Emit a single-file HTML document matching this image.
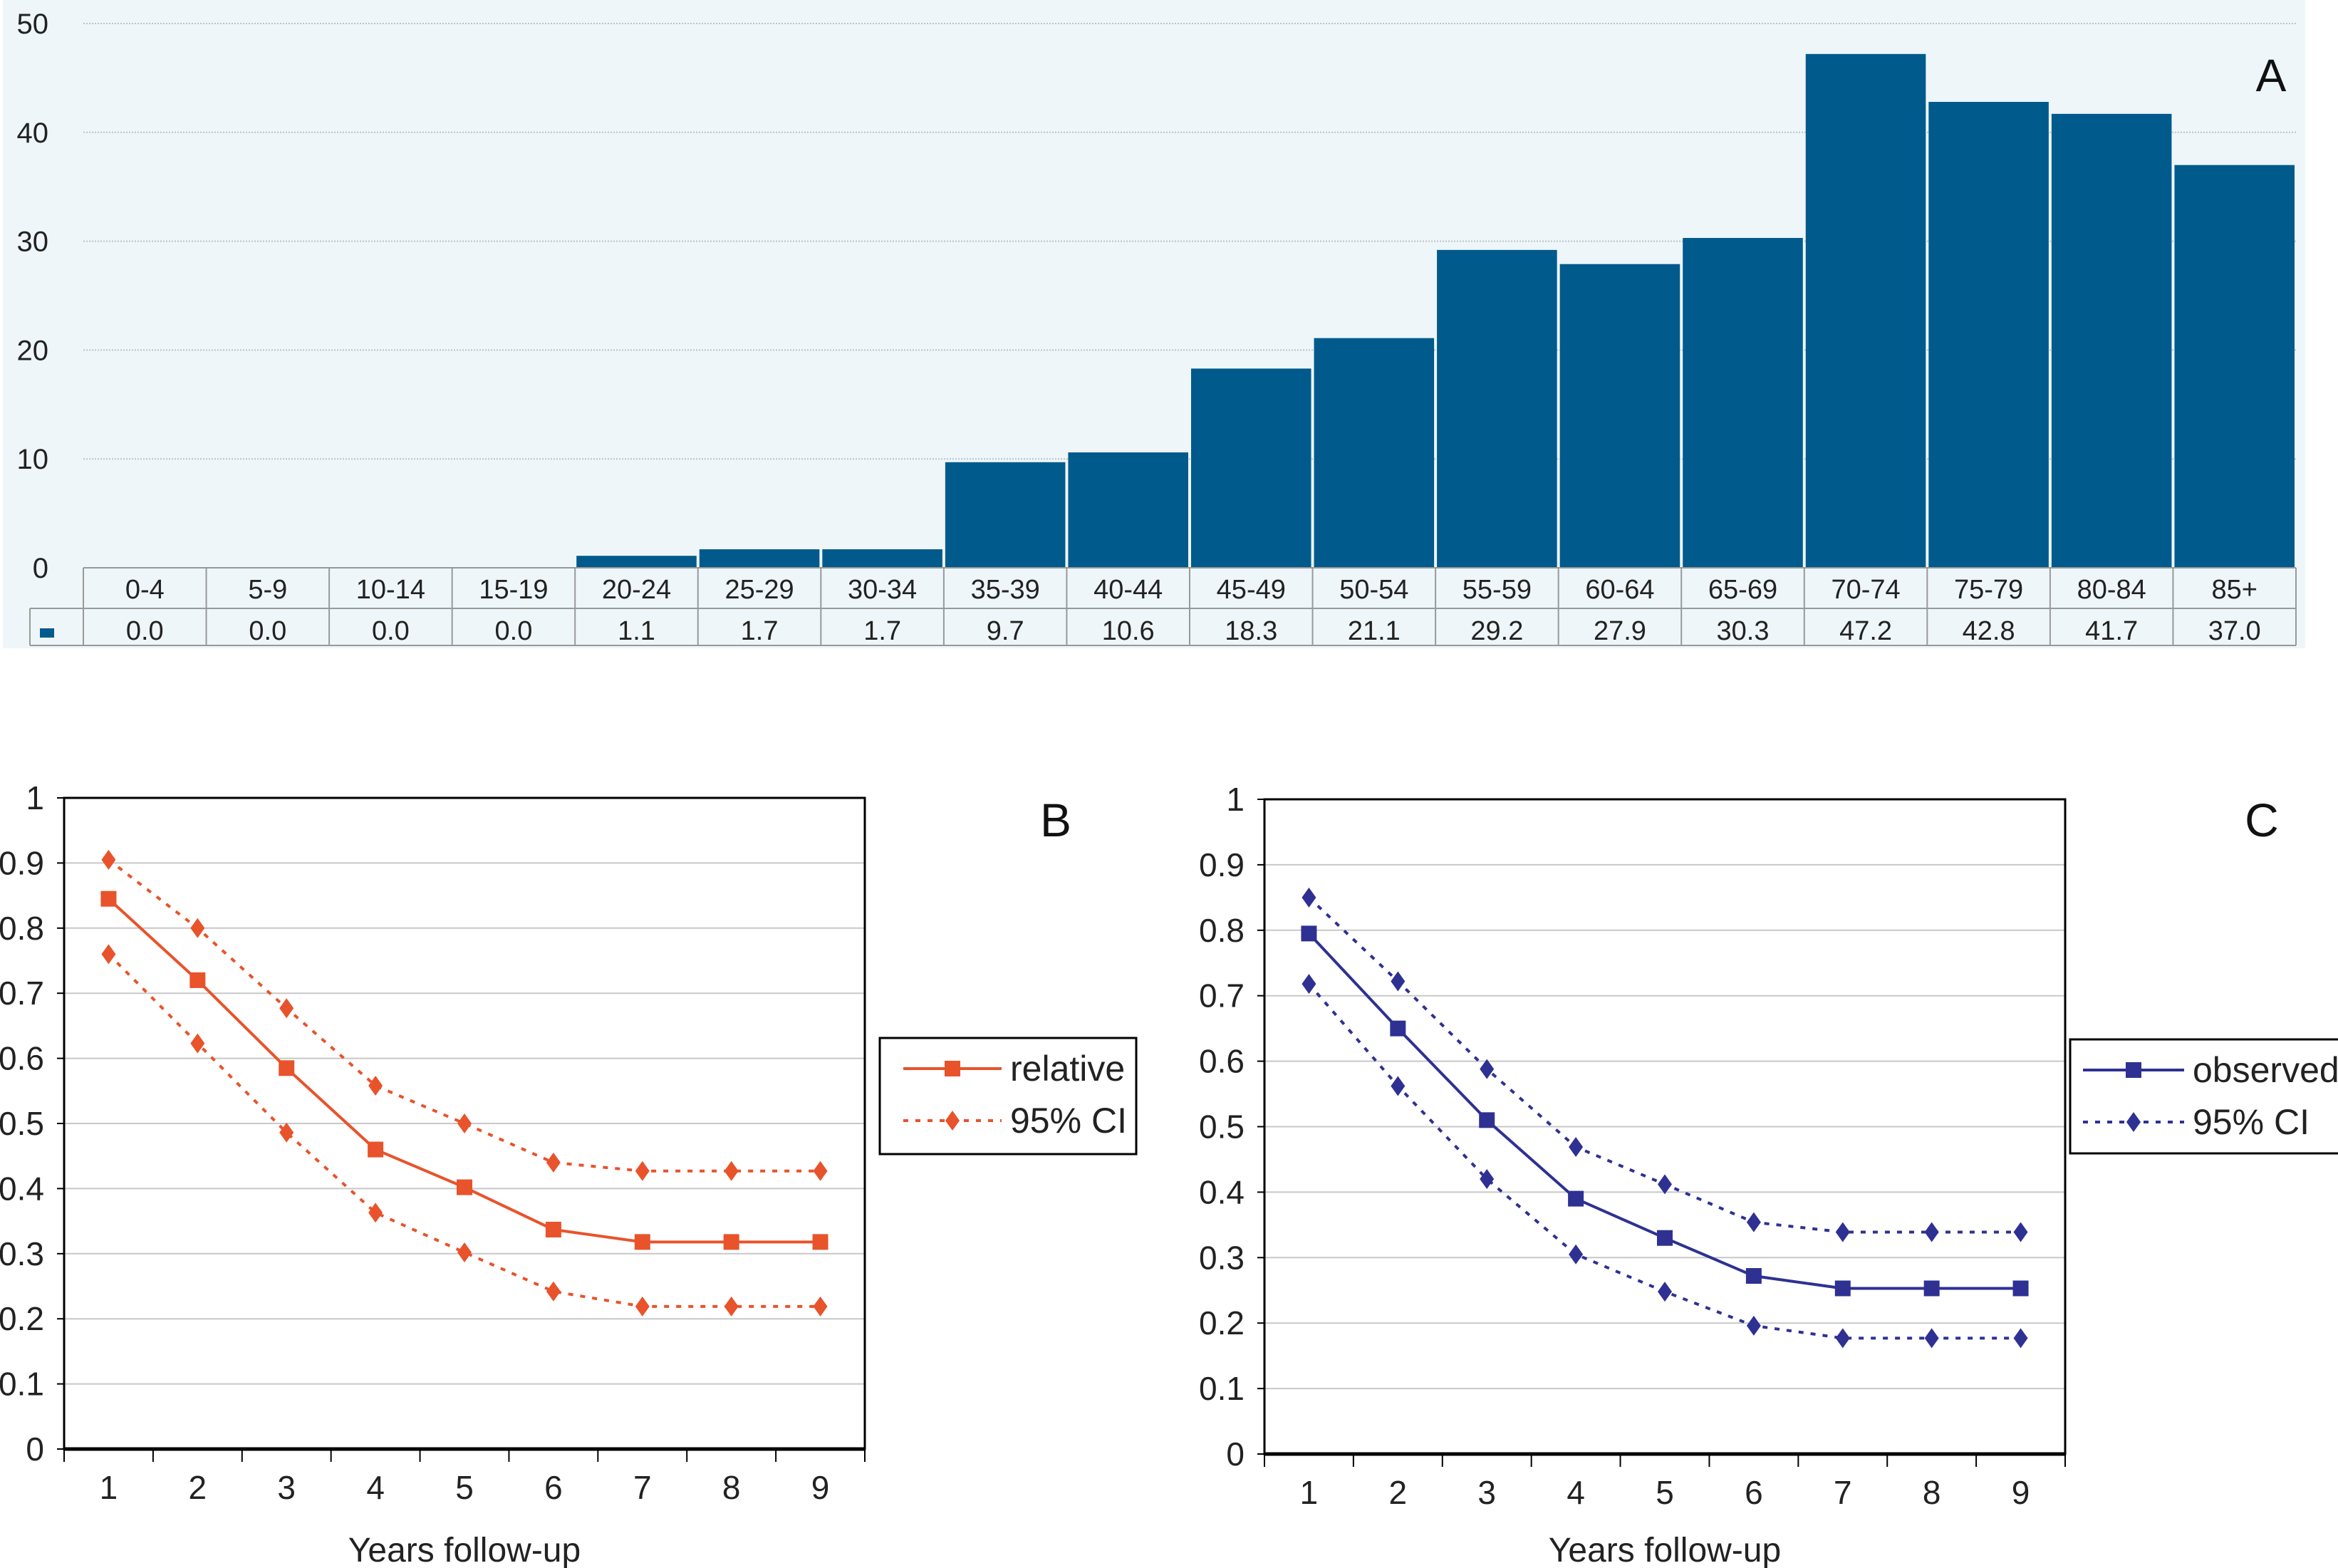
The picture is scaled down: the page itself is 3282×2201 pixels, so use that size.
<!DOCTYPE html>
<html><head><meta charset="utf-8"><style>
html,body{margin:0;padding:0;background:#fff;}
svg{display:block;font-family:"Liberation Sans",Arial,sans-serif;}
</style></head><body>
<svg id="root" width="3282" height="2201" viewBox="0 0 3282 2201" xmlns="http://www.w3.org/2000/svg">
<rect x="4" y="0" width="3232" height="910" fill="#eef6f9"/>
<g id="pa"></g>
<g id="pb"></g>
<g id="pc"></g>
</svg>
<script>
const ageGroups=["0-4","5-9","10-14","15-19","20-24","25-29","30-34","35-39","40-44","45-49","50-54","55-59","60-64","65-69","70-74","75-79","80-84","85+"];
const rates=[0.0,0.0,0.0,0.0,1.1,1.7,1.7,9.7,10.6,18.3,21.1,29.2,27.9,30.3,47.2,42.8,41.7,37.0];
const aTicks=[0,10,20,30,40,50];
const years=[1,2,3,4,5,6,7,8,9];
const yTicks=[0,0.1,0.2,0.3,0.4,0.5,0.6,0.7,0.8,0.9,1];
const relative=[0.845,0.72,0.585,0.46,0.402,0.337,0.318,0.318,0.318];
const relUpper=[0.905,0.80,0.677,0.558,0.50,0.44,0.427,0.427,0.427];
const relLower=[0.76,0.623,0.486,0.363,0.302,0.242,0.219,0.219,0.219];
const observed=[0.795,0.65,0.51,0.39,0.33,0.272,0.253,0.253,0.253];
const obsUpper=[0.85,0.722,0.588,0.469,0.412,0.354,0.339,0.339,0.339];
const obsLower=[0.718,0.562,0.42,0.305,0.248,0.196,0.177,0.177,0.177];

const NS="http://www.w3.org/2000/svg";
function mk(p,t,a,txt){const e=document.createElementNS(NS,t);for(const k in a)e.setAttribute(k,a[k]);if(txt!==undefined)e.textContent=txt;p.appendChild(e);return e;}

// Panel A
(function(){
const g=document.getElementById('pa');
const L=117,R=3223,T=33,B=797;
const cw=(R-L)/ageGroups.length;
const ya=v=>B-(v/50)*(B-T);
aTicks.forEach(t=>{
 if(t>0){const l=mk(g,'line',{x1:L,x2:R,y1:ya(t),y2:ya(t),stroke:'#b8c4c8','stroke-width':2,'stroke-dasharray':'2,2'});
 
 }
 const tx=mk(g,'text',{x:68,y:ya(t)+14,'font-size':40,'text-anchor':'end',fill:'#222'},String(t));
 
 
});
rates.forEach((v,i)=>{
 const r=mk(g,'rect',{x:L+i*cw+2,y:ya(v),width:cw-4,height:B-ya(v),fill:'#005a8b'});
 
 
});
const r1=B,r2=854,r3=906;
mk(g,'line',{x1:L,x2:R,y1:r1,y2:r1,stroke:'#999','stroke-width':2});
mk(g,'line',{x1:42,x2:R,y1:r2,y2:r2,stroke:'#999','stroke-width':2});
mk(g,'line',{x1:42,x2:R,y1:r3,y2:r3,stroke:'#999','stroke-width':2});
mk(g,'line',{x1:42,x2:42,y1:r2,y2:r3,stroke:'#999','stroke-width':2});
for(let i=0;i<=ageGroups.length;i++){mk(g,'line',{x1:L+i*cw,x2:L+i*cw,y1:r1,y2:r3,stroke:'#999','stroke-width':2});}
const lg=mk(g,'rect',{x:56,y:882,width:20,height:13,fill:'#005a8b'});


ageGroups.forEach((a,i)=>{
 const c=L+i*cw+cw/2;
 const t1=mk(g,'text',{x:c,y:840,'font-size':38,'text-anchor':'middle',fill:'#222'},a);
 
 
 const t2=mk(g,'text',{x:c,y:898,'font-size':38,'text-anchor':'middle',fill:'#222'},rates[i].toFixed(1));
 
 
});
const A=mk(g,'text',{x:3188,y:128,'font-size':64,'text-anchor':'middle',fill:'#111'},'A');


})();

function lineChart(gid,L,R,T,B,main,up,lo,color,letter,lx,lbox,lx0,lx1,mainName){
const g=document.getElementById(gid);
const n=years.length,cw=(R-L)/n;
const xs=i=>L+cw*(i+0.5);
const ys=v=>B-v*(B-T);
mk(g,'rect',{x:L,y:T,width:R-L,height:B-T,fill:'#fff'});
yTicks.forEach(t=>{
 if(t>0&&t<1){const l=mk(g,'line',{x1:L,x2:R,y1:ys(t),y2:ys(t),stroke:'#c8c8c8','stroke-width':2});
 
 }
 mk(g,'line',{x1:L-10,x2:L,y1:ys(t),y2:ys(t),stroke:'#000','stroke-width':2});
 const tx=mk(g,'text',{x:L-28,y:ys(t)+16,'font-size':46,'text-anchor':'end',fill:'#222'},String(t));
 
 
});
mk(g,'rect',{x:L,y:T,width:R-L,height:B-T,fill:'none',stroke:'#000','stroke-width':3});
mk(g,'line',{x1:L,x2:R,y1:B,y2:B,stroke:'#000','stroke-width':5});
for(let i=0;i<=n;i++)mk(g,'line',{x1:L+i*cw,x2:L+i*cw,y1:B,y2:B+18,stroke:'#000','stroke-width':2});
years.forEach((y,i)=>{
 const tx=mk(g,'text',{x:xs(i),y:B+70,'font-size':46,'text-anchor':'middle',fill:'#222'},String(y));
 
 
});
const xt=mk(g,'text',{x:(L+R)/2,y:2192,'font-size':48,'text-anchor':'middle',fill:'#222'},'Years follow-up');


function series(vals,dash,marker,name){
 const p=mk(g,'polyline',{points:vals.map((v,i)=>xs(i)+','+ys(v)).join(' '),fill:'none',stroke:color,'stroke-width':4,'stroke-dasharray':dash});
 
 
 vals.forEach((v,i)=>{
  const x=xs(i),y=ys(v);let m;
  if(marker==='sq')m=mk(g,'rect',{x:x-11,y:y-11,width:22,height:22,fill:color});
  else m=mk(g,'polygon',{points:`${x},${y-14} ${x+10},${y} ${x},${y+14} ${x-10},${y}`,fill:color});
  
  
 });
}
series(up,'7,10','dia','ci-upper');
series(lo,'7,10','dia','ci-lower');
series(main,'none','sq',mainName);
const lt=mk(g,'text',{x:lx,y:1174,'font-size':66,'text-anchor':'middle',fill:'#111'},letter);


const [bx,by,bw,bh]=lbox;
const lb=mk(g,'g',{});


mk(lb,'rect',{x:bx,y:by,width:bw,height:bh,fill:'#fff',stroke:'#000','stroke-width':3});
const y1=by+43,y2=by+116,x0=bx+lx0,x1=bx+lx1;
mk(lb,'line',{x1:x0,x2:x1,y1:y1,y2:y1,stroke:color,'stroke-width':4});
mk(lb,'rect',{x:(x0+x1)/2-11,y:y1-11,width:22,height:22,fill:color});
mk(lb,'line',{x1:x0,x2:x1,y1:y2,y2:y2,stroke:color,'stroke-width':4,'stroke-dasharray':'7,10'});
const cx=(x0+x1)/2;
mk(lb,'polygon',{points:`${cx},${y2-14} ${cx+10},${y2} ${cx},${y2+14} ${cx-10},${y2}`,fill:color});
const e1=mk(lb,'text',{x:x1+12,y:y1+17,'font-size':50,fill:'#222'},mainName);


const e2=mk(lb,'text',{x:x1+12,y:y2+17,'font-size':50,fill:'#222'},'95% CI');


}
lineChart('pb',90,1214,1120,2034,relative,relUpper,relLower,'#e8532b','B',1482,[1235,1457,360,163],33,171,'relative');
lineChart('pc',1775,2899,1122,2041,observed,obsUpper,obsLower,'#2e3192','C',3175,[2906,1459,380,160],18,160,'observed');
</script>
</body></html>
